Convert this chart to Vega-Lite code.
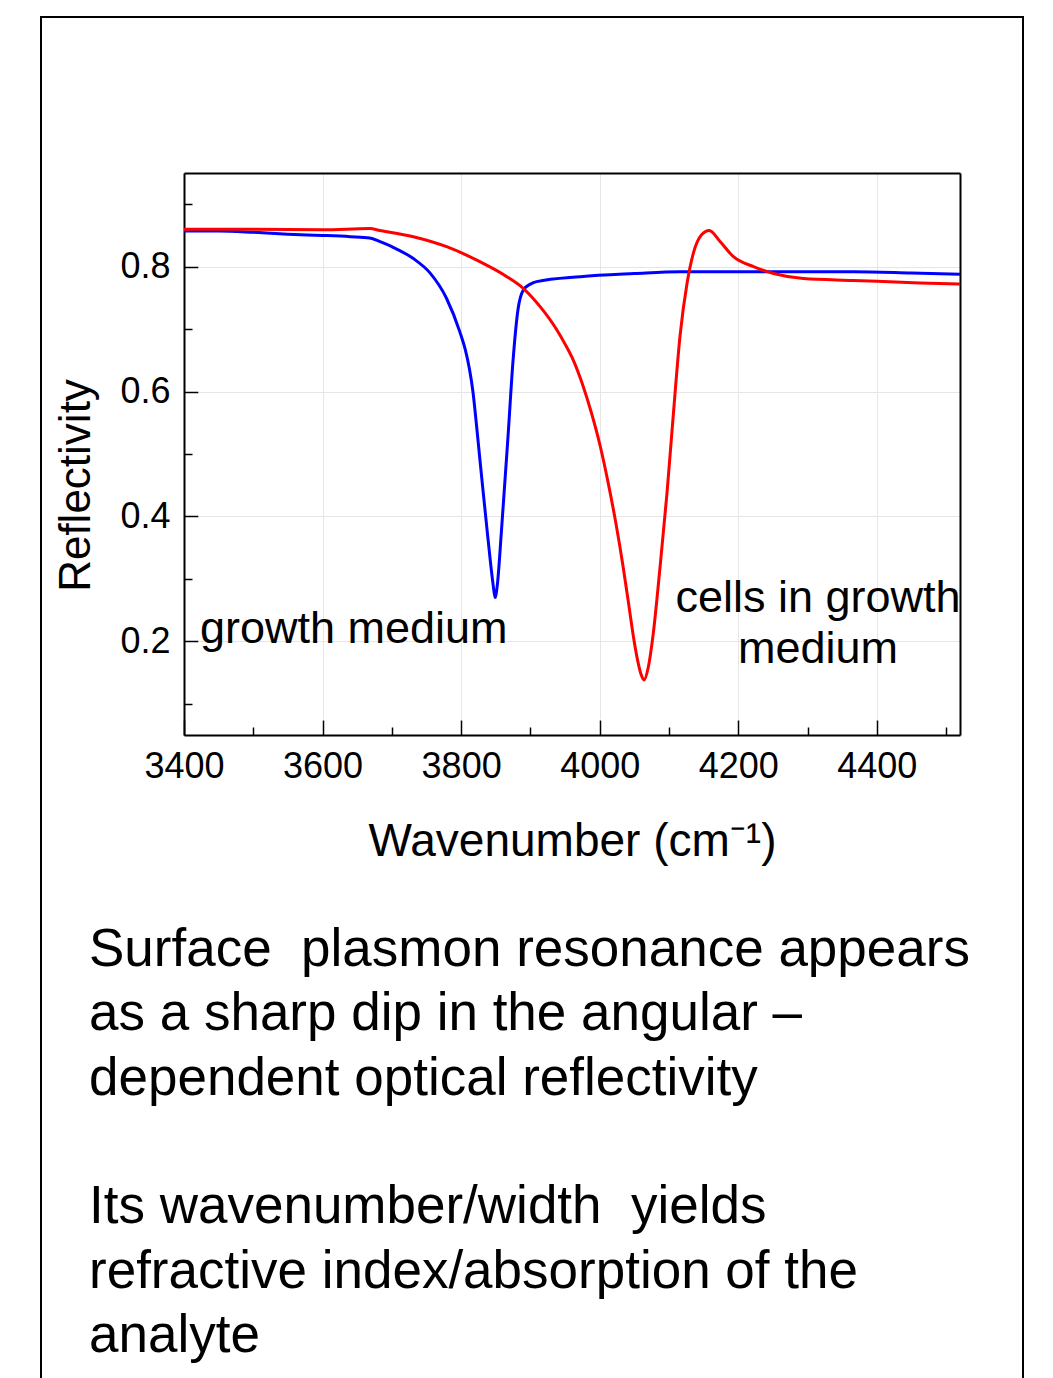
{
  "$schema": "https://vega.github.io/schema/vega-lite/v6.json",
  "autosize": {"type": "none"},
  "padding": {"left": 41, "top": 17, "right": 30, "bottom": -2},
  "width": 982,
  "height": 1363,
  "background": "white",
  "config": {
    "font": "Liberation Sans",
    "view": {"stroke": "black", "strokeWidth": 2, "fill": null},
    "axis": {"labelColor": "black", "titleColor": "black", "titleFontWeight": "normal", "domainColor": "black", "tickColor": "black", "labelFont": "Liberation Sans", "titleFont": "Liberation Sans"}
  },
  "title": {
    "text": ["Surface\u00a0 plasmon resonance appears", "as a sharp dip in the angular \u2013", "dependent optical reflectivity", "\u2800", "Its wavenumber/width\u00a0 yields", "refractive index/absorption of the", "analyte"],
    "orient": "bottom",
    "anchor": "start",
    "frame": "group",
    "offset": -414,
    "dx": 48,
    "baseline": "alphabetic",
    "fontSize": 53,
    "fontWeight": "normal",
    "font": "Liberation Sans",
    "color": "black",
    "lineHeight": 64.3
  },
  "datasets": {
    "curves": [
      {"series": "growth medium", "wavenumber": 3400, "reflectivity": 0.857},
      {"series": "growth medium", "wavenumber": 3450, "reflectivity": 0.857},
      {"series": "growth medium", "wavenumber": 3500, "reflectivity": 0.855},
      {"series": "growth medium", "wavenumber": 3550, "reflectivity": 0.852},
      {"series": "growth medium", "wavenumber": 3600, "reflectivity": 0.850},
      {"series": "growth medium", "wavenumber": 3640, "reflectivity": 0.848},
      {"series": "growth medium", "wavenumber": 3668, "reflectivity": 0.846},
      {"series": "growth medium", "wavenumber": 3683, "reflectivity": 0.840},
      {"series": "growth medium", "wavenumber": 3700, "reflectivity": 0.832},
      {"series": "growth medium", "wavenumber": 3731, "reflectivity": 0.813},
      {"series": "growth medium", "wavenumber": 3755, "reflectivity": 0.790},
      {"series": "growth medium", "wavenumber": 3779, "reflectivity": 0.749},
      {"series": "growth medium", "wavenumber": 3798, "reflectivity": 0.696},
      {"series": "growth medium", "wavenumber": 3806, "reflectivity": 0.667},
      {"series": "growth medium", "wavenumber": 3812, "reflectivity": 0.636},
      {"series": "growth medium", "wavenumber": 3817, "reflectivity": 0.600},
      {"series": "growth medium", "wavenumber": 3822, "reflectivity": 0.548},
      {"series": "growth medium", "wavenumber": 3827, "reflectivity": 0.492},
      {"series": "growth medium", "wavenumber": 3832, "reflectivity": 0.437},
      {"series": "growth medium", "wavenumber": 3837, "reflectivity": 0.383},
      {"series": "growth medium", "wavenumber": 3842, "reflectivity": 0.330},
      {"series": "growth medium", "wavenumber": 3846, "reflectivity": 0.292},
      {"series": "growth medium", "wavenumber": 3849, "reflectivity": 0.270},
      {"series": "growth medium", "wavenumber": 3852, "reflectivity": 0.288},
      {"series": "growth medium", "wavenumber": 3858, "reflectivity": 0.374},
      {"series": "growth medium", "wavenumber": 3868, "reflectivity": 0.534},
      {"series": "growth medium", "wavenumber": 3875, "reflectivity": 0.651},
      {"series": "growth medium", "wavenumber": 3882, "reflectivity": 0.731},
      {"series": "growth medium", "wavenumber": 3890, "reflectivity": 0.763},
      {"series": "growth medium", "wavenumber": 3900, "reflectivity": 0.772},
      {"series": "growth medium", "wavenumber": 3909, "reflectivity": 0.776},
      {"series": "growth medium", "wavenumber": 3972, "reflectivity": 0.784},
      {"series": "growth medium", "wavenumber": 4050, "reflectivity": 0.789},
      {"series": "growth medium", "wavenumber": 4116, "reflectivity": 0.792},
      {"series": "growth medium", "wavenumber": 4222, "reflectivity": 0.792},
      {"series": "growth medium", "wavenumber": 4366, "reflectivity": 0.792},
      {"series": "growth medium", "wavenumber": 4450, "reflectivity": 0.790},
      {"series": "growth medium", "wavenumber": 4520, "reflectivity": 0.788},
      {"series": "cells in growth medium", "wavenumber": 3400, "reflectivity": 0.860},
      {"series": "cells in growth medium", "wavenumber": 3500, "reflectivity": 0.860},
      {"series": "cells in growth medium", "wavenumber": 3600, "reflectivity": 0.859},
      {"series": "cells in growth medium", "wavenumber": 3668, "reflectivity": 0.861},
      {"series": "cells in growth medium", "wavenumber": 3683, "reflectivity": 0.858},
      {"series": "cells in growth medium", "wavenumber": 3731, "reflectivity": 0.848},
      {"series": "cells in growth medium", "wavenumber": 3779, "reflectivity": 0.832},
      {"series": "cells in growth medium", "wavenumber": 3827, "reflectivity": 0.808},
      {"series": "cells in growth medium", "wavenumber": 3866, "reflectivity": 0.784},
      {"series": "cells in growth medium", "wavenumber": 3890, "reflectivity": 0.765},
      {"series": "cells in growth medium", "wavenumber": 3914, "reflectivity": 0.736},
      {"series": "cells in growth medium", "wavenumber": 3938, "reflectivity": 0.699},
      {"series": "cells in growth medium", "wavenumber": 3950, "reflectivity": 0.676},
      {"series": "cells in growth medium", "wavenumber": 3962, "reflectivity": 0.650},
      {"series": "cells in growth medium", "wavenumber": 3975, "reflectivity": 0.612},
      {"series": "cells in growth medium", "wavenumber": 3988, "reflectivity": 0.566},
      {"series": "cells in growth medium", "wavenumber": 4000, "reflectivity": 0.516},
      {"series": "cells in growth medium", "wavenumber": 4012, "reflectivity": 0.455},
      {"series": "cells in growth medium", "wavenumber": 4024, "reflectivity": 0.385},
      {"series": "cells in growth medium", "wavenumber": 4034, "reflectivity": 0.318},
      {"series": "cells in growth medium", "wavenumber": 4042, "reflectivity": 0.258},
      {"series": "cells in growth medium", "wavenumber": 4049, "reflectivity": 0.205},
      {"series": "cells in growth medium", "wavenumber": 4055, "reflectivity": 0.168},
      {"series": "cells in growth medium", "wavenumber": 4060, "reflectivity": 0.146},
      {"series": "cells in growth medium", "wavenumber": 4064, "reflectivity": 0.138},
      {"series": "cells in growth medium", "wavenumber": 4070, "reflectivity": 0.158},
      {"series": "cells in growth medium", "wavenumber": 4077, "reflectivity": 0.210},
      {"series": "cells in growth medium", "wavenumber": 4087, "reflectivity": 0.318},
      {"series": "cells in growth medium", "wavenumber": 4097, "reflectivity": 0.436},
      {"series": "cells in growth medium", "wavenumber": 4106, "reflectivity": 0.560},
      {"series": "cells in growth medium", "wavenumber": 4116, "reflectivity": 0.690},
      {"series": "cells in growth medium", "wavenumber": 4126, "reflectivity": 0.773},
      {"series": "cells in growth medium", "wavenumber": 4135, "reflectivity": 0.821},
      {"series": "cells in growth medium", "wavenumber": 4147, "reflectivity": 0.851},
      {"series": "cells in growth medium", "wavenumber": 4158, "reflectivity": 0.858},
      {"series": "cells in growth medium", "wavenumber": 4174, "reflectivity": 0.840},
      {"series": "cells in growth medium", "wavenumber": 4193, "reflectivity": 0.816},
      {"series": "cells in growth medium", "wavenumber": 4222, "reflectivity": 0.800},
      {"series": "cells in growth medium", "wavenumber": 4251, "reflectivity": 0.789},
      {"series": "cells in growth medium", "wavenumber": 4294, "reflectivity": 0.781},
      {"series": "cells in growth medium", "wavenumber": 4366, "reflectivity": 0.778},
      {"series": "cells in growth medium", "wavenumber": 4462, "reflectivity": 0.774},
      {"series": "cells in growth medium", "wavenumber": 4520, "reflectivity": 0.772}
    ],
    "labels": [
      {"label": "growth medium", "wavenumber": 3423, "reflectivity": 0.198},
      {"label": "cells in growth\nmedium", "wavenumber": 4315, "reflectivity": 0.2475}
    ]
  },
  "layer": [
    {
      "data": {"name": "curves"},
      "mark": {"type": "line", "interpolate": "monotone", "strokeWidth": 3},
      "encoding": {
        "x": {
          "field": "wavenumber", "type": "quantitative",
          "scale": {"domain": [3400, 4520], "range": [143, 919], "nice": false, "zero": false},
          "axis": {
            "orient": "bottom", "offset": -645,
            "values": [3400, 3500, 3600, 3700, 3800, 3900, 4000, 4100, 4200, 4300, 4400, 4500],
            "format": "d",
            "labelExpr": "datum.value % 200 === 0 ? datum.label : ''",
            "tickSize": {"condition": {"test": "datum.value % 200 !== 0", "value": -8}, "value": -15},
            "tickWidth": 1.5,
            "domainWidth": 2,
            "labelFontSize": 36,
            "labelPadding": 29,
            "labelFlush": false,
            "labelOverlap": false,
            "grid": false,
            "title": "Wavenumber (cm\u207b\u00b9)",
            "titleFontSize": 46,
            "titleX": 531, "titleY": 120,
            "titleAlign": "center", "titleBaseline": "alphabetic"
          }
        },
        "y": {
          "field": "reflectivity", "type": "quantitative",
          "scale": {"domain": [0.05, 0.95], "range": [718, 156], "nice": false, "zero": false},
          "axis": {
            "orient": "left", "offset": -143,
            "values": [0.1, 0.2, 0.3, 0.4, 0.5, 0.6, 0.7, 0.8, 0.9],
            "labelExpr": "round(datum.value * 10) % 2 === 0 ? format(datum.value, '.1f') : ''",
            "tickSize": {"condition": {"test": "round(datum.value * 10) % 2 === 1", "value": -8}, "value": -14},
            "tickWidth": 1.5,
            "domainWidth": 2,
            "labelFontSize": 36,
            "labelPadding": 28,
            "labelFlush": false,
            "labelOverlap": false,
            "grid": false,
            "title": "Reflectivity",
            "titleFontSize": 44,
            "titleX": -95, "titleY": 468,
            "titleAngle": -90,
            "titleAlign": "center", "titleBaseline": "alphabetic"
          }
        },
        "color": {
          "field": "series", "type": "nominal",
          "scale": {"domain": ["growth medium", "cells in growth medium"], "range": ["#0000ff", "#ff0000"]},
          "legend": null
        }
      }
    },
    {
      "data": {"name": "labels"},
      "transform": [{"filter": "datum.label === 'growth medium'"}],
      "mark": {"type": "text", "align": "left", "baseline": "alphabetic", "fontSize": 45, "font": "Liberation Sans", "color": "black"},
      "encoding": {
        "x": {
          "field": "wavenumber", "type": "quantitative",
          "axis": {
            "orient": "top", "offset": -156,
            "values": [3600, 3800, 4000, 4200, 4400],
            "labels": false, "tickSize": -546, "tickColor": "#e6e6e6", "tickWidth": 1,
            "domainWidth": 2, "grid": false, "title": null
          }
        },
        "y": {
          "field": "reflectivity", "type": "quantitative",
          "axis": {
            "orient": "right", "offset": -63,
            "values": [0.2, 0.4, 0.6, 0.8],
            "labels": false, "tickSize": -762, "tickColor": "#e6e6e6", "tickWidth": 1,
            "domainWidth": 2, "grid": false, "title": null
          }
        },
        "text": {"field": "label", "type": "nominal"}
      }
    },
    {
      "data": {"name": "labels"},
      "transform": [{"filter": "datum.label !== 'growth medium'"}],
      "mark": {"type": "text", "align": "center", "baseline": "alphabetic", "fontSize": 45, "font": "Liberation Sans", "color": "black", "lineBreak": "\n", "lineHeight": 51},
      "encoding": {
        "x": {"field": "wavenumber", "type": "quantitative", "axis": null},
        "y": {"field": "reflectivity", "type": "quantitative", "axis": null},
        "text": {"field": "label", "type": "nominal"}
      }
    }
  ],
  "resolve": {"axis": {"x": "independent", "y": "independent"}}
}
